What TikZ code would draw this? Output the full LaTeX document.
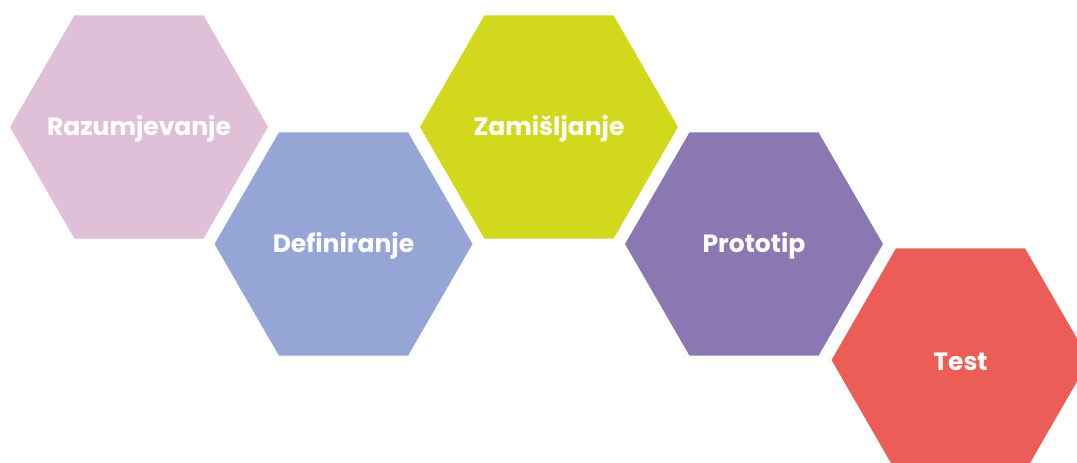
\documentclass[tikz,border=0pt]{standalone}
\usepackage{fontspec}
\setmainfont{Poppins}[BoldFont={* Bold}]
\usetikzlibrary{shapes.geometric}
\definecolor{hpink}{HTML}{E0BFD8}
\definecolor{hblue}{HTML}{95A5D5}
\definecolor{hlime}{HTML}{D2D91C}
\definecolor{hpurple}{HTML}{8B78B3}
\definecolor{hred}{HTML}{EB5D56}
\tikzset{
  hexa/.style={regular polygon, regular polygon sides=6, minimum size=258pt,
    inner sep=0pt, outer sep=0pt, draw=none},
  hlabel/.style={text=white, inner sep=0pt, yshift=-2pt,
    font=\fontsize{25}{29}\selectfont\bfseries},
}
\begin{document}
\begin{tikzpicture}[x=1pt,y=-1pt]
\useasboundingbox[fill=white] (0,0) rectangle (1077,463);
\node[hexa, fill=hpink]   (h1) at (139,127) {};
\node[hexa, fill=hblue]   (h2) at (343.5,244) {};
\node[hexa, fill=hlime]   (h3) at (549,127) {};
\node[hexa, fill=hpurple] (h4) at (754,244) {};
\node[hexa, fill=hred]    (h5) at (960.5,360) {};
\node[hlabel] (t1) at (h1.center) {Razumjevanje};
\node[hlabel] (t2) at (h2.center) {Definiranje};
\node[hlabel] (t3) at (h3.center) {Zamišljanje};
\node[hlabel] (t4) at (h4.center) {Prototip};
\node[hlabel] (t5) at (h5.center) {Test};
\end{tikzpicture}
\end{document}
